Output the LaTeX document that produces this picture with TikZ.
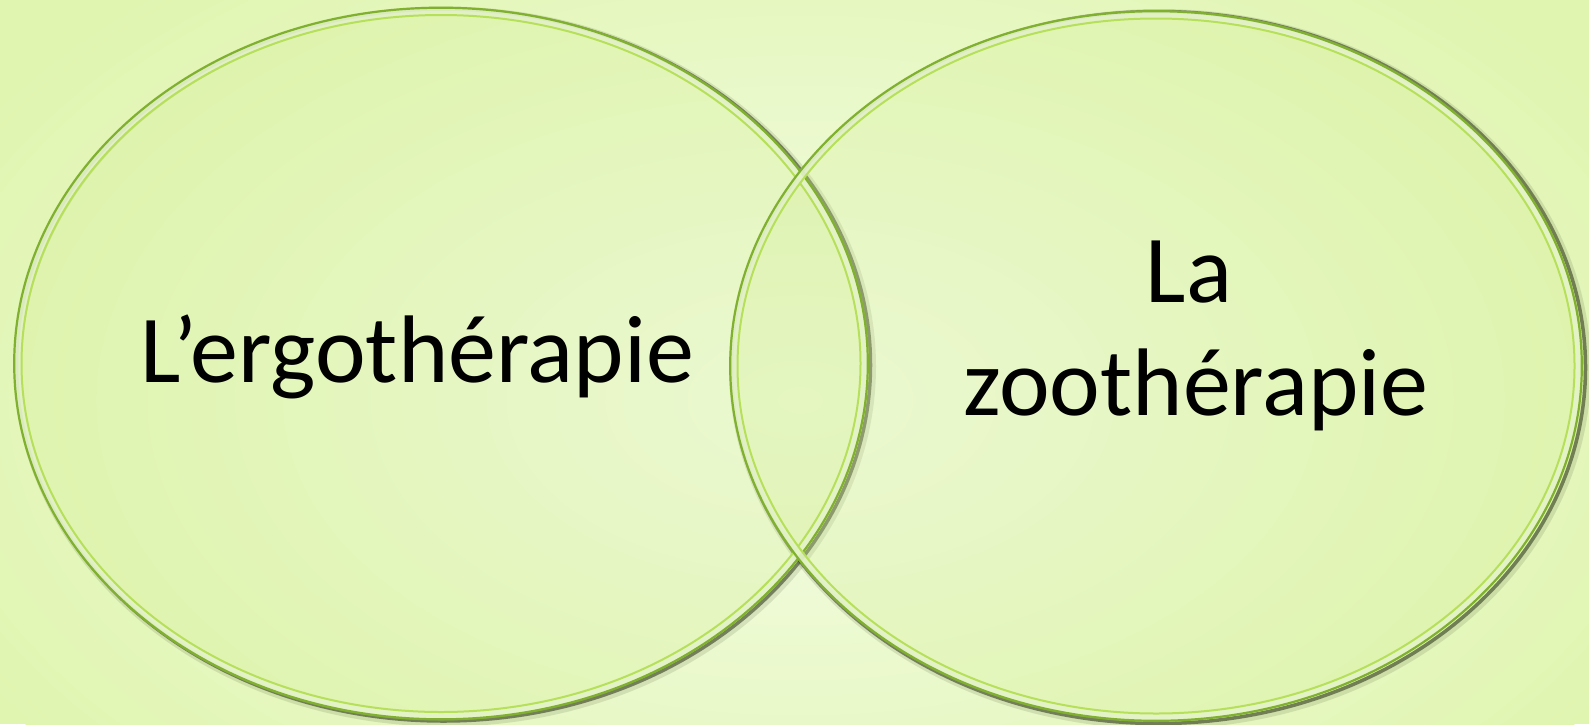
\documentclass[tikz,border=0pt]{standalone}
\usepackage{fontspec}
\setmainfont{Carlito}
\definecolor{bgout}{HTML}{E0F5B0}
\definecolor{bgin}{HTML}{F5FDE8}
\definecolor{vfill}{HTML}{D2EE90}
\definecolor{vband}{HTML}{E4F3C8}
\definecolor{vouter}{HTML}{7FB02E}
\definecolor{vinner}{HTML}{B6E05A}
\definecolor{vshadow}{HTML}{26300F}
\tikzset{
  vbody/.style={fill=vfill, fill opacity=0.25},
  vlabel/.style={font=\fontsize{96}{113}\selectfont, text=black, inner sep=0pt, anchor=base}
}
\begin{document}
\begin{tikzpicture}[x=1pt,y=-1pt]
\useasboundingbox (0,0) rectangle (1589,724);
\fill[bgout] (0,0) rectangle (1589,724);
\shade[inner color=bgin, outer color=bgout] (800,400) ellipse [x radius=950, y radius=560];
% shadows
\foreach \cx/\cy in {441/363.5, 1156/366}{
  \draw[vshadow, line width=8pt, opacity=0.12] (\cx+4,\cy+3) ellipse [x radius=427, y radius=356];
  \draw[vshadow, line width=3.5pt, opacity=0.55] (\cx+2.5,\cy+1.5) ellipse [x radius=427, y radius=356];
}
% bodies
\fill[vbody] (441,363.5) ellipse [x radius=428, y radius=357];
\fill[vbody] (1156,366) ellipse [x radius=427, y radius=356];
% rings
\foreach \cx/\cy/\rx/\ry in {441/363.5/428/357, 1156/366/427/356}{
  \draw[vband, line width=7pt, opacity=0.9] (\cx,\cy) ellipse [x radius=\rx-4.5, y radius=\ry-4.5];
  \draw[vouter, line width=2.2pt] (\cx,\cy) ellipse [x radius=\rx-1.2, y radius=\ry-1.2];
  \draw[vinner, line width=2pt] (\cx,\cy) ellipse [x radius=\rx-8.5, y radius=\ry-8.5];
}
\node[vlabel] (ergo) at (417,382) {L’ergothérapie};
\node[vlabel] (la) at (1189,302) {La};
\node[vlabel] (zoo) at (1196,415) {zoothérapie};
\end{tikzpicture}
\end{document}
